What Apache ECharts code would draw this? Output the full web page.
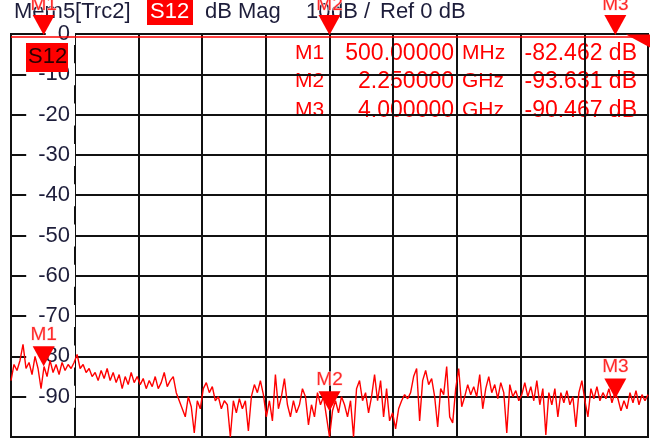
<!DOCTYPE html>
<html>
<head>
<meta charset="utf-8">
<script src="https://cdn.jsdelivr.net/npm/echarts@6/dist/echarts.min.js"></script>
<style>
  html, body { margin: 0; padding: 0; background: #fff; }
  #chart { width: 659px; height: 444px; }
</style>
</head>
<body>
<div id="chart"></div>
<script>
// sweep range (GHz) and the S12 trace, one value per sweep point
const sweepStartGHz = 0.3
const sweepStopGHz = 4.2
const traceDb = [
  -86, -82, -83.5, -81, -77, -83, -81.5, -84.5, -80, -83,
  -88, -82.5, -85, -81, -84, -82, -84.5, -81.5, -83.5, -82,
  -83, -81.5, -79.5, -83, -82, -84, -83, -85, -84, -86,
  -83.5, -85.5, -83, -86, -84, -86.5, -84.5, -88, -85, -87,
  -84, -86.5, -85, -87, -85.5, -88, -86, -87.5, -85, -88,
  -86.5, -84, -87.5, -86, -85, -89, -91, -93, -95, -90,
  -92.5, -99, -91, -93, -88, -86.5, -89, -87.5, -91, -90,
  -93, -91, -92, -100, -91, -94, -90.5, -93, -91, -98.5,
  -90, -87, -89, -86, -89.5, -95, -91, -96, -84.5, -93,
  -90, -85.5, -92, -95, -91, -94, -92, -88, -90, -97,
  -92, -95, -89, -92, -90, -95, -100, -93.5, -91, -94,
  -90, -92, -95, -91, -100, -88, -86, -91, -89, -94,
  -90, -84.5, -91, -86, -95, -88, -96, -94, -98, -93,
  -91, -89.5, -90.5, -89, -85, -83, -96, -86, -83.5, -87,
  -85.5, -90, -97.5, -88, -89.5, -82.5, -95, -96.5, -88, -83,
  -92.5, -90, -87, -89.5, -87.5, -90, -84.5, -93, -88, -85,
  -89, -87, -90.5, -86.5, -89, -99, -87, -90, -88.5, -91,
  -89.5, -86.5, -90, -87.5, -91, -86, -92, -88, -99.5, -89,
  -92, -88, -95, -89, -91.5, -88.5, -92, -90, -97.5, -89,
  -86, -91, -95, -88, -90.5, -87.5, -91, -89, -90.5, -88,
  -91.5, -89, -90.5, -93.5, -91, -93, -89, -91.5, -88.5, -92,
  -89.5, -91, -89.5
]

const markerNames = ['M1', 'M2', 'M3']
const markerFreqGHz = [0.5, 2.25, 4.0]
const markerDb = [-82.462, -93.631, -90.467]
const markerFreqText = ['500.00000', '2.250000', '4.000000']
const markerUnit = ['MHz', 'GHz', 'GHz']
const markerValueText = ['-82.462 dB', '-93.631 dB', '-90.467 dB']

const refLevelDb = 0
const dbPerDiv = 10

const RED = '#ff0000'
const INK = '#1d1d3a'
const FONT = '"Liberation Sans", Arial, sans-serif'

const traceData = traceDb.map((v, i) => [
  sweepStartGHz + (sweepStopGHz - sweepStartGHz) * i / (traceDb.length - 1), v
])

const downTriangle = 'path://M0,0 L20,0 L10,18 Z'

// markers on the trace
const traceMarkers = markerNames.map((name, i) => ({
  name: name,
  coord: [markerFreqGHz[i], markerDb[i]],
  symbol: downTriangle,
  symbolSize: [22, 20],
  symbolOffset: [0, -10],
  label: { show: true, formatter: name, position: 'top', distance: 2 }
}))
// marker position flags along the top edge
const topMarkers = markerNames.map((name, i) => ({
  name: name + 'top',
  coord: [markerFreqGHz[i], refLevelDb],
  symbol: downTriangle,
  symbolSize: [22, 20],
  symbolOffset: [0, -9],
  label: { show: true, formatter: name, position: 'top', distance: 1 }
}))
// reference level wedge at the right edge
const refWedge = {
  name: 'ref',
  coord: [sweepStopGHz, refLevelDb],
  symbol: 'path://M0,0 L24,0 L24,13 Z',
  symbolSize: [24, 13],
  symbolOffset: [-10, 7],
  label: { show: false }
}

// marker table in the upper right
const tableTexts = []
const rowY = [55, 83, 112]
markerNames.forEach((name, i) => {
  const st = { fill: RED, textVerticalAlign: 'middle' }
  const small = '21px ' + FONT
  const big = '23px ' + FONT
  tableTexts.push({ type: 'text', z: -1, left: 295, top: rowY[i] - 12, style: Object.assign({ text: name, font: small }, st) })
  tableTexts.push({ type: 'text', z: -1, right: 659 - 454, top: rowY[i] - 13, style: Object.assign({ text: markerFreqText[i], font: big }, st) })
  tableTexts.push({ type: 'text', z: -1, left: 462, top: rowY[i] - 12, style: Object.assign({ text: markerUnit[i], font: small }, st) })
  tableTexts.push({ type: 'text', z: -1, right: 659 - 637, top: rowY[i] - 13, style: Object.assign({ text: markerValueText[i], font: big }, st) })
})

const chart = echarts.init(document.getElementById('chart'))

chart.setOption({
  backgroundColor: '#fff',
  animation: false,
  grid: {
    left: 11, right: 11, top: 34, bottom: 7,
    show: true, borderColor: '#111', borderWidth: 2, backgroundColor: 'transparent'
  },
  xAxis: [
    {
      type: 'value', min: sweepStartGHz, max: sweepStopGHz,
      show: false
    },
    {
      // 10 horizontal divisions, only for the graticule
      type: 'value', min: 0, max: 10, interval: 1,
      axisLine: { show: false }, axisTick: { show: false }, axisLabel: { show: false },
      splitLine: { show: true, lineStyle: { color: '#111', width: 2 } }
    }
  ],
  yAxis: {
    type: 'value', min: refLevelDb - 10 * dbPerDiv, max: refLevelDb, interval: dbPerDiv,
    axisLine: { show: false }, axisTick: { show: false },
    splitLine: { show: true, lineStyle: { color: '#111', width: 2 } },
    axisLabel: {
      inside: true, margin: 64, align: 'right', showMinLabel: false,
      fontFamily: FONT, fontSize: 22, color: INK,
      backgroundColor: '#fff', padding: [0, 5, 0, 12]
    }
  },
  graphic: [
    { type: 'text', z: 1, left: 14, top: 1, style: { text: 'Mem5[Trc2]', fill: INK, font: '22px ' + FONT } },
    { type: 'rect', z: 1, left: 147, top: 0, shape: { width: 46, height: 25 }, style: { fill: RED } },
    { type: 'text', z: 2, left: 150, top: 1, style: { text: 'S12', fill: '#fff', font: '22px ' + FONT } },
    { type: 'text', z: 1, left: 205, top: 1, style: { text: 'dB Mag', fill: INK, font: '22px ' + FONT } },
    { type: 'text', z: 1, left: 306, top: 1, style: { text: '10', fill: INK, font: '22px ' + FONT } },
    { type: 'text', z: 1, left: 331, top: 1, style: { text: 'dB /', fill: INK, font: '22px ' + FONT } },
    { type: 'text', z: 1, left: 380, top: 1, style: { text: 'Ref 0 dB', fill: INK, font: '22px ' + FONT } },
    { type: 'rect', z: 20, left: 26, top: 43, shape: { width: 42, height: 29 }, style: { fill: RED } },
    { type: 'text', z: 21, left: 28, top: 46, style: { text: 'S12', fill: '#2a0000', font: '22px ' + FONT } }
  ].concat(tableTexts),
  series: [
    {
      type: 'line',
      xAxisIndex: 0,
      data: traceData,
      symbol: 'none',
      lineStyle: { color: RED, width: 1.4 },
      z: 5,
      markLine: {
        silent: true,
        symbol: 'none',
        label: { show: false },
        // reference line, drawn just under the top edge
        data: [{ yAxis: refLevelDb - 0.75 }],
        lineStyle: { color: RED, width: 1.5, type: 'solid' }
      },
      markPoint: {
        itemStyle: { color: RED },
        label: {
          color: '#ff2a2a', fontFamily: FONT, fontSize: 19,
          textBorderColor: 'rgba(255,215,215,0.9)', textBorderWidth: 1
        },
        data: traceMarkers.concat(topMarkers, [refWedge])
      }
    }
  ]
})
</script>
</body>
</html>
